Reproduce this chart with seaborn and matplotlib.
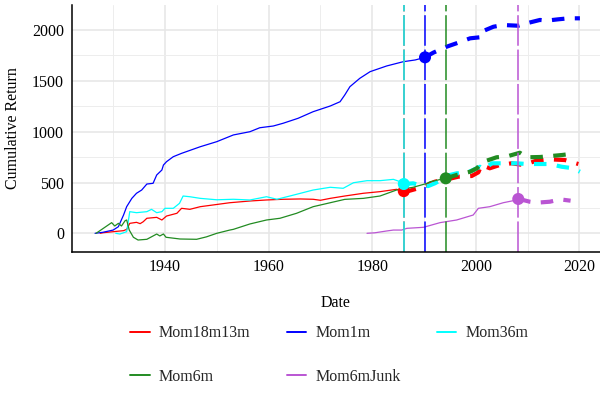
import matplotlib
matplotlib.use("Agg")
import matplotlib.pyplot as plt
import seaborn as sns
import pandas as pd
from matplotlib.lines import Line2D

# ---------------- data ----------------
series_names = ["Mom18m13m", "Mom1m", "Mom36m", "Mom6m", "Mom6mJunk"]
series_colors = ["#FF0000", "#0000FF", "#00FFFF", "#228B22", "#BA55D3"]
pub_years = [1986.1, 1990.2, 1986.1, 1994.2, 2008.2]

# in-sample (solid) paths
red_in_x = [1927.5, 1928.1, 1930.0, 1932.0, 1932.6, 1933.2, 1934.5, 1935.2, 1935.8, 1936.5,
            1938.4, 1939.4, 1940.3, 1942.3, 1943.2, 1944.8, 1946.8, 1949.3, 1952.5, 1956.4,
            1959.6, 1962.8, 1966.1, 1968.6, 1970.0, 1971.9, 1974.7, 1978.3, 1981.5, 1984.7, 1986.1]
red_in_y = [0, 6, 16, 26, 39, 98, 108, 95, 114, 148,
            157, 131, 170, 197, 246, 236, 262, 279, 301, 318,
            328, 335, 338, 335, 325, 344, 367, 394, 410, 433, 415]

blue_in_x = [1926.5, 1928.0, 1930.0, 1931.0, 1932.0, 1932.6, 1933.6, 1934.5, 1935.5, 1936.5,
             1937.7, 1938.4, 1939.4, 1939.7, 1940.3, 1941.6, 1943.2, 1946.8, 1950.0, 1953.2,
             1956.4, 1958.3, 1960.9, 1962.8, 1965.7, 1968.6, 1971.9, 1973.8, 1974.7, 1975.7,
             1977.6, 1979.6, 1982.8, 1986.0, 1988.3, 1990.2]
blue_in_y = [0, 10, 32, 65, 180, 262, 344, 394, 426, 485,
             492, 574, 623, 672, 705, 754, 787, 852, 902, 968,
             1000, 1039, 1056, 1083, 1132, 1197, 1253, 1295, 1361, 1443,
             1525, 1591, 1647, 1689, 1706, 1732]

cyan_in_x = [1930.5, 1931.3, 1932.6, 1933.2, 1934.5, 1936.5, 1937.4, 1938.4, 1939.4, 1940.0,
             1941.6, 1942.8, 1943.5, 1944.8, 1946.8, 1950.0, 1953.2, 1956.4, 1959.6, 1961.6,
             1964.1, 1965.4, 1968.6, 1971.9, 1974.4, 1976.4, 1979.0, 1981.5, 1984.1, 1985.4, 1986.1]
cyan_in_y = [0, -7, 16, 213, 203, 213, 236, 203, 213, 246,
             246, 295, 367, 360, 344, 330, 335, 328, 360, 335,
             367, 384, 426, 453, 443, 498, 518, 518, 531, 508, 485]

green_in_x = [1926.7, 1928.1, 1929.7, 1930.3, 1931.0, 1931.6, 1932.3, 1932.6, 1933.1, 1933.9,
              1934.8, 1936.5, 1938.4, 1939.0, 1939.7, 1940.2, 1942.9, 1946.1, 1948.0, 1950.0,
              1952.5, 1953.2, 1956.4, 1959.6, 1962.2, 1965.4, 1968.6, 1971.9, 1974.7, 1978.3,
              1981.5, 1984.7, 1987.9, 1990.5, 1991.2, 1994.2]
green_in_y = [0, 49, 105, 72, 98, 72, 124, 131, 32, -39,
              -66, -59, -7, -26, -7, -39, -56, -59, -35, 0,
              32, 39, 92, 131, 148, 197, 262, 301, 334, 344,
              367, 426, 453, 490, 508, 541]

purple_in_x = [1979.0, 1980.5, 1982.8, 1984.1, 1985.7, 1986.7, 1989.9, 1993.1, 1996.3, 1999.5,
               2000.5, 2002.7, 2005.3, 2007.9, 2008.2]
purple_in_y = [0, 5, 23, 32, 32, 49, 59, 105, 131, 180,
               246, 262, 301, 328, 338]

# out-of-sample (dashed) paths, first point = publication point
red_out_x = [1986.1, 1986.6, 1988.9, 1990.5, 1992.1, 1995.3, 1996.6, 1999.2, 2000.5, 2001.1,
             2002.7, 2004.5, 2006.9, 2009.2, 2011.7, 2014.3, 2017.2, 2019.8]
red_out_y = [415, 410, 443, 470, 508, 541, 557, 564, 600, 672,
             640, 670, 689, 672, 715, 728, 721, 682]

blue_out_x = [1990.2, 1991.8, 1994.4, 1996.6, 1998.9, 2000.9, 2001.1, 2003.4, 2005.3, 2008.2,
              2009.8, 2012.4, 2013.7, 2015.9, 2017.9, 2020.1]
blue_out_y = [1732, 1778, 1837, 1876, 1919, 1930, 1984, 2033, 2050, 2043,
              2067, 2100, 2093, 2106, 2116, 2116]

cyan_out_x = [1986.1, 1987.9, 1989.5, 1990.8, 1992.1, 1995.0, 1996.3, 1998.5, 2000.8, 2001.5,
              2003.1, 2005.3, 2007.9, 2009.8, 2011.7, 2014.3, 2016.6, 2018.8, 2020.1]
cyan_out_y = [485, 492, 470, 465, 492, 574, 590, 600, 655, 630,
              689, 689, 689, 682, 682, 682, 655, 640, 606]

green_out_x = [1994.2, 1996.3, 1998.9, 2000.2, 2001.1, 2002.1, 2004.0, 2006.3, 2008.5, 2009.8,
               2012.4, 2014.6, 2016.7, 2019.2]
green_out_y = [541, 574, 606, 640, 689, 715, 748, 761, 793, 748,
               751, 761, 771, 787]

purple_out_x = [2008.2, 2009.1, 2010.5, 2011.7, 2014.3, 2016.3, 2018.3]
purple_out_y = [338, 328, 310, 301, 311, 334, 321]

x_major = [1940, 1960, 1980, 2000, 2020]
x_minor = [1930, 1950, 1970, 1990, 2010]
y_major = [0, 500, 1000, 1500, 2000]
y_minor = [250, 750, 1250, 1750]

ins = [(red_in_x, red_in_y), (blue_in_x, blue_in_y), (cyan_in_x, cyan_in_y),
       (green_in_x, green_in_y), (purple_in_x, purple_in_y)]
outs = [(red_out_x, red_out_y), (blue_out_x, blue_out_y), (cyan_out_x, cyan_out_y),
        (green_out_x, green_out_y), (purple_out_x, purple_out_y)]

# ---------------- plot ----------------
sns.set_theme(style="white")
plt.rcParams['font.family'] = ['Liberation Serif', 'DejaVu Serif']
FS = 11.5

fig = plt.figure(figsize=(6, 3.93), dpi=100)
L, R, T, B = 71.7, 600.0, 5.0, 251.7
ax = fig.add_axes([L / 600, 1 - B / 393, (R - L) / 600, (B - T) / 393])

for name, col, (xi, yi), (xo, yo) in zip(series_names, series_colors, ins, outs):
    dfi = pd.DataFrame({"Date": xi, "ret": yi})
    dfo = pd.DataFrame({"Date": xo, "ret": yo})
    sns.lineplot(data=dfi, x="Date", y="ret", color=col, lw=0.9, ax=ax,
                 estimator=None, legend=False, zorder=2)
    sns.lineplot(data=dfo, x="Date", y="ret", color=col, lw=3.0, ax=ax,
                 estimator=None, legend=False, linestyle=(0, (3, 2.5)), zorder=2)

for col, pub in zip(series_colors, pub_years):
    ax.axvline(pub, color=col, lw=1.1, linestyle=(0, (20, 2.5)), zorder=2.5)

for col, (xo, yo) in zip(series_colors, outs):
    sns.scatterplot(x=[xo[0]], y=[yo[0]], color=col, s=75, edgecolor="none",
                    ax=ax, legend=False, zorder=3)

ax.set_xlim(1921.99, 2023.98)
ax.set_ylim(-181, 2247)
ax.set_xticks(x_major)
ax.set_xticks(x_minor, minor=True)
ax.set_yticks(y_major)
ax.set_yticks(y_minor, minor=True)
ax.set_xticklabels([str(v) for v in x_major])
ax.set_yticklabels([str(v) for v in y_major])
ax.grid(which="major", color="#E6E6E6", lw=1.1)
ax.grid(which="minor", color="#EDEDED", lw=0.7)
ax.set_axisbelow(True)
ax.tick_params(which="both", length=0, labelsize=FS, colors="black", pad=5.5)
for s in ["top", "right"]:
    ax.spines[s].set_visible(False)
for s in ["left", "bottom"]:
    ax.spines[s].set_color("black")
    ax.spines[s].set_linewidth(1.1)

ax.set_xlabel("Date", fontsize=FS, color="black")
ax.set_ylabel("Cumulative Return", fontsize=FS, color="black")
ax.xaxis.set_label_coords(0.5, (B - 303) / (B - T))
ax.xaxis.label.set_va("center")
ax.yaxis.set_label_coords((13.5 - L) / (R - L), 0.5)
ax.yaxis.label.set_va("center")

# legend (row-major appearance with 3 columns)
order = [0, 3, 1, 4, 2]
handles = [Line2D([0], [0], color=series_colors[i], lw=1.4) for i in order]
labels = [series_names[i] for i in order]
fig.legend(handles, labels, loc="center", bbox_to_anchor=(0.549, 1 - 355 / 393),
           ncol=3, frameon=False, fontsize=FS, handlelength=1.2, handletextpad=0.6,
           columnspacing=2.25, labelspacing=1.7, borderpad=0)

fig.savefig("out.png", dpi=100)
